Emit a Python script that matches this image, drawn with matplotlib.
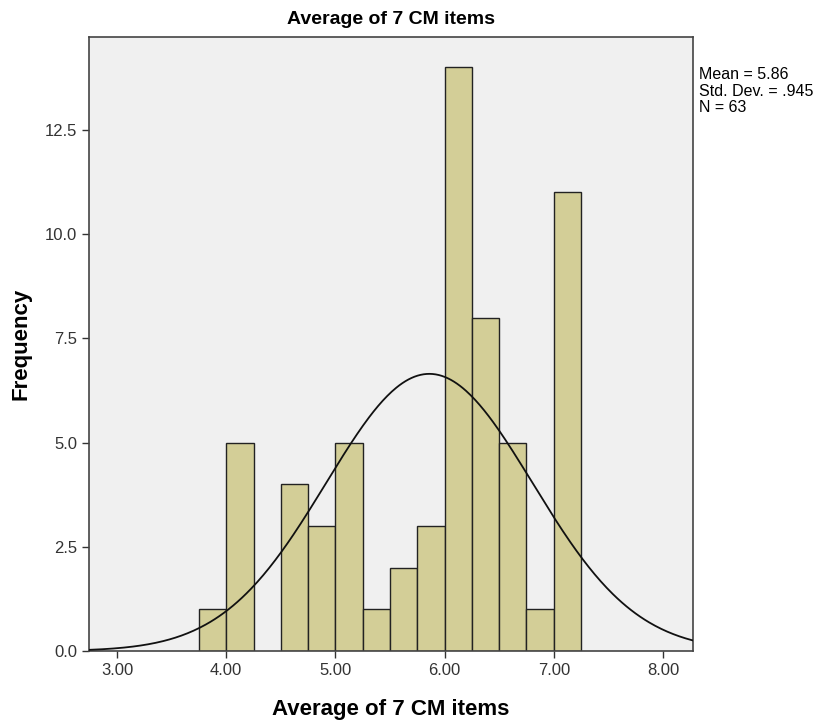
import numpy as np
import matplotlib.pyplot as plt

plt.rcParams['font.family'] = ['Liberation Sans', 'DejaVu Sans']

# Histogram data (bin edges of width 0.25, counts)
bin_left = [3.75, 4.00, 4.50, 4.75, 5.00, 5.25, 5.50, 5.75, 6.00, 6.25, 6.50, 6.75, 7.00]
counts = [1, 5, 4, 3, 5, 1, 2, 3, 14, 8, 5, 1, 11]
bin_width = 0.25

mean = 5.86
std = 0.945
n = 63

xticks = [3.0, 4.0, 5.0, 6.0, 7.0, 8.0]
yticks = [0.0, 2.5, 5.0, 7.5, 10.0, 12.5]

fig = plt.figure(figsize=(8.25, 7.25), dpi=100)
ax = fig.add_axes([0.108, 0.102, 0.732, 0.847])
ax.set_facecolor('#f0f0f0')

ax.bar(bin_left, counts, width=bin_width, align='edge',
       color='#d3ce97', edgecolor='#222222', linewidth=1.0, zorder=2)

# normal curve scaled to counts
xs = np.linspace(2.744, 8.275, 400)
ys = n * bin_width / (std * np.sqrt(2 * np.pi)) * np.exp(-0.5 * ((xs - mean) / std) ** 2)
ax.plot(xs, ys, color='#111111', linewidth=1.3, zorder=3)

ax.set_xlim(2.744, 8.275)
ax.set_ylim(0, 14.73)
ax.set_xticks(xticks)
ax.set_xticklabels(['%.2f' % v for v in xticks])
ax.set_yticks(yticks)
ax.set_yticklabels(['%.1f' % v for v in yticks])
ax.tick_params(direction='out', length=5, width=1, labelsize=12, colors='#333333',
               top=False, right=False)
for s in ax.spines.values():
    s.set_color('#444444')
    s.set_linewidth(1.2)

ax.set_title('Average of 7 CM items', fontsize=14, fontweight='bold', pad=9)
ax.set_xlabel('Average of 7 CM items', fontsize=16, fontweight='bold', labelpad=15)
ax.set_ylabel('Frequency', fontsize=16, fontweight='bold', labelpad=10)

fig.text(0.847, 0.907, 'Mean = 5.86\nStd. Dev. = .945\nN = 63',
         fontsize=11.5, va='top', ha='left', linespacing=1.12)

plt.savefig('out.png', dpi=100)
